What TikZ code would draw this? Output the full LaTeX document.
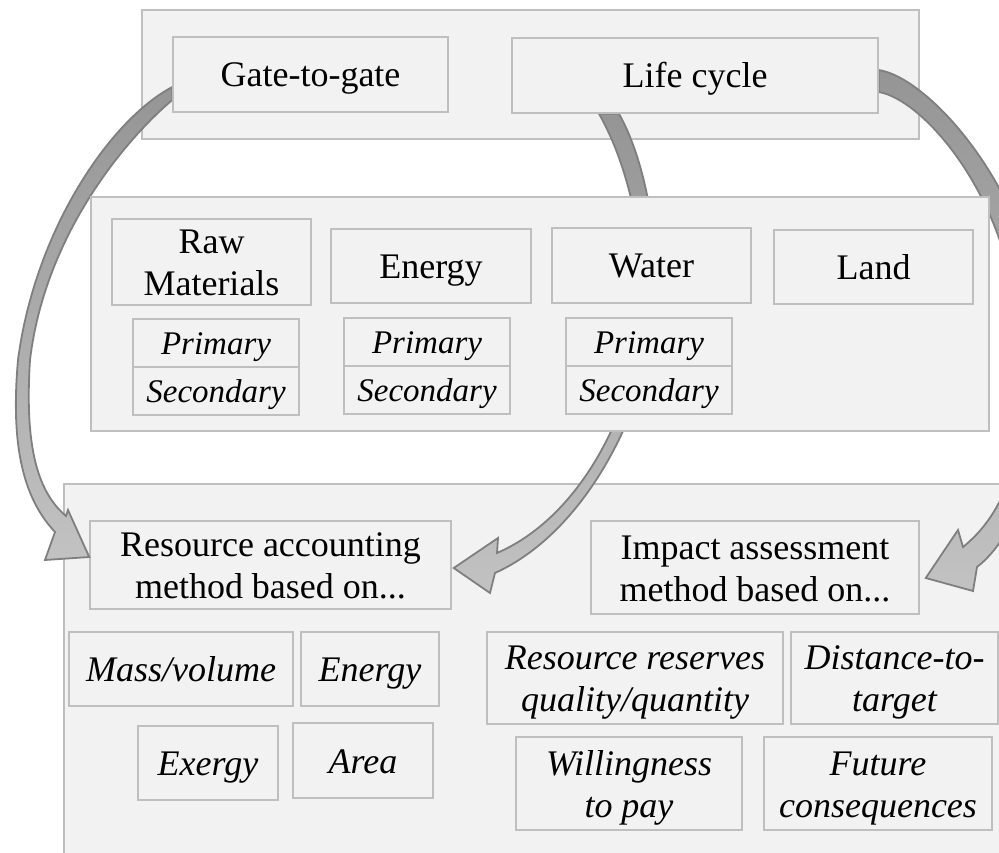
\documentclass[tikz,border=0pt]{standalone}
\usepackage{fontspec}
\setmainfont{Liberation Serif}
\usetikzlibrary{calc}
\definecolor{cpanel}{HTML}{F2F2F2}
\definecolor{cborder}{HTML}{BFBFBF}
\definecolor{arrline}{HTML}{7F7F7F}
\definecolor{arrdark}{HTML}{959595}
\definecolor{arrlight}{HTML}{C2C2C2}
\pgfdeclarelayer{bg}
\pgfdeclarelayer{arr}
\pgfsetlayers{bg,arr,main}
\begin{document}
\begin{tikzpicture}[x=1pt,y=-1pt,
  panel/.style={draw=cborder,fill=cpanel,line width=1.5pt,inner sep=0pt},
  box/.style={draw=cborder,fill=cpanel,line width=1.5pt,inner sep=0pt,align=center,
    font=\fontsize{36}{42}\selectfont,text height=25pt,text depth=0pt},
  twoline/.style={text height=67pt,text depth=0pt},
  ibox/.style={box,font=\fontsize{36}{42}\selectfont\itshape},
  sbox/.style={box,font=\fontsize{33}{40}\selectfont\itshape,text height=22pt},
  blockarrow/.style={draw=arrline,line width=1.8pt,top color=arrdark,bottom color=arrlight,line join=miter}
]
\useasboundingbox (0,0) rectangle (999,853);
\clip (0,0) rectangle (999,853);

\begin{pgfonlayer}{bg}
  \node[panel,minimum width=777pt,minimum height=129pt] (toppanel) at (530.5,74.5) {};
  \node[panel,minimum width=946pt,minimum height=386pt] (botpanel) at (537,677) {};
  % bottom contents
  \node[box,twoline,minimum width=361pt,minimum height=88pt] (racc) at (270.5,565) {Resource accounting\\method based on...};
  \node[box,twoline,minimum width=328pt,minimum height=93pt] (impact) at (755,567.5) {Impact assessment\\method based on...};
  \node[ibox,minimum width=224pt,minimum height=74pt] (mass) at (181,669) {Mass/volume};
  \node[ibox,minimum width=138pt,minimum height=74pt] (enb) at (370,669) {Energy};
  \node[ibox,minimum width=140pt,minimum height=74pt] (exergy) at (208,763) {Exergy};
  \node[ibox,minimum width=140pt,minimum height=75pt] (area) at (363,760.5) {Area};
  \node[ibox,twoline,minimum width=296pt,minimum height=92pt] (reserves) at (635,678) {Resource reserves\\quality/quantity};
  \node[ibox,twoline,minimum width=207pt,minimum height=92pt] (dtt) at (894.5,678) {Distance-to-\\target};
  \node[ibox,twoline,minimum width=226pt,minimum height=93pt] (will) at (629,783.5) {Willingness\\to pay};
  \node[ibox,twoline,minimum width=228pt,minimum height=93pt] (future) at (878,783.5) {Future\\consequences};
\end{pgfonlayer}

% top boxes
\node[box,minimum width=275pt,minimum height=75pt] (gate) at (310.5,74.5) {Gate-to-gate};
\node[box,minimum width=366pt,minimum height=75pt] (life) at (695,75.5) {Life cycle};

% middle panel
\node[panel,minimum width=898pt,minimum height=234pt] (midpanel) at (540,314) {};
\node[box,twoline,minimum width=199pt,minimum height=86pt] (raw) at (211.5,262) {Raw\\Materials};
\node[box,minimum width=200pt,minimum height=74pt] (energy) at (431,266) {Energy};
\node[box,minimum width=199pt,minimum height=75pt] (water) at (651.5,265.5) {Water};
\node[box,minimum width=199pt,minimum height=74pt] (land) at (873.5,267) {Land};
\node[sbox,minimum width=166pt,minimum height=48pt] (rawp) at (216,343) {Primary};
\node[sbox,minimum width=166pt,minimum height=48pt] (raws) at (216,391) {Secondary};
\node[sbox,minimum width=166pt,minimum height=48pt] (enp) at (427,342) {Primary};
\node[sbox,minimum width=166pt,minimum height=48pt] (ens) at (427,390) {Secondary};
\node[sbox,minimum width=166pt,minimum height=48pt] (wap) at (649,342) {Primary};
\node[sbox,minimum width=166pt,minimum height=48pt] (was) at (649,390) {Secondary};

% arrow end points tied to nodes
\coordinate (g1) at ($(gate.west)+(0,12.5)$);
\coordinate (g2) at ($(gate.west)+(0,25.5)$);
\coordinate (g3) at ($(racc.west)+(0,-8)$);
\coordinate (m1) at ($(life.south)+(-76,0)$);
\coordinate (m2) at ($(life.south)+(-96,0)$);
\coordinate (m3) at ($(racc.east)+(2,3)$);
\coordinate (r1) at ($(life.east)+(0,-5.5)$);
\coordinate (r2) at ($(life.east)+(0,16.5)$);
\coordinate (r3) at ($(impact.east)+(6,10.5)$);

\begin{pgfonlayer}{arr}
  % Gate-to-gate -> resource accounting
  \path[blockarrow] (g1) .. controls (110,120) and (35,230) .. (18,360)
    .. controls (10,450) and (25,500) .. (55,532) -- (45,560) -- (g3) -- (68,510) -- (66,516)
    .. controls (35,490) and (25,440) .. (30,360)
    .. controls (45,235) and (125,140) .. (g2) -- cycle;
  % Life cycle -> resource accounting (behind middle panel)
  \path[blockarrow] (m1) .. controls (645,160) and (660,240) .. (655,310)
    .. controls (650,400) and (590,530) .. (495,573) -- (490,593) -- (m3) -- (498,538) -- (497,553)
    .. controls (585,515) and (638,400) .. (642,310)
    .. controls (645,240) and (628,165) .. (m2) -- cycle;
  % Life cycle -> impact assessment
  \path[blockarrow] (r1) .. controls (930,78) and (1030,190) .. (1045,330)
    .. controls (1048,430) and (1025,530) .. (977,567) -- (973,591) -- (r3) -- (958,530) -- (963,547)
    .. controls (1015,505) and (1030,430) .. (1018,330)
    .. controls (1010,200) and (925,100) .. (r2) -- cycle;
\end{pgfonlayer}
\end{tikzpicture}
\end{document}
